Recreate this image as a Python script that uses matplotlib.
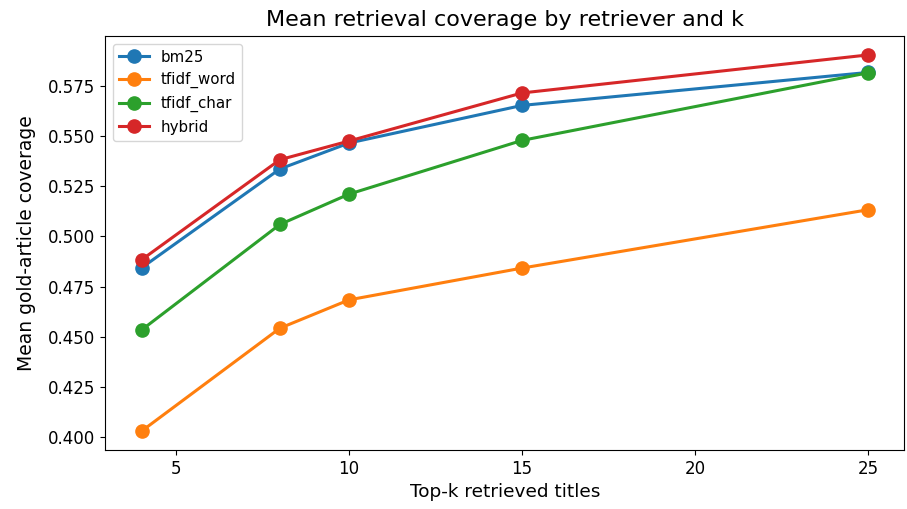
import matplotlib
matplotlib.use('Agg')
import matplotlib.pyplot as plt

k_values = [4, 8, 10, 15, 25]
bm25 = [0.4843, 0.5335, 0.5464, 0.5651, 0.5815]
tfidf_word = [0.4031, 0.4543, 0.4684, 0.4842, 0.5132]
tfidf_char = [0.4534, 0.5059, 0.5210, 0.5477, 0.5813]
hybrid = [0.4883, 0.5381, 0.5474, 0.5713, 0.5902]

series = [
    ('bm25', bm25),
    ('tfidf_word', tfidf_word),
    ('tfidf_char', tfidf_char),
    ('hybrid', hybrid),
]

fig, ax = plt.subplots(figsize=(9.07, 5.09), dpi=100)
for name, vals in series:
    ax.plot(k_values, vals, marker='o', markersize=9.5, linewidth=2.2, label=name)

ax.set_title('Mean retrieval coverage by retriever and k', fontsize=16, pad=7)
ax.set_xlabel('Top-k retrieved titles', fontsize=13.3)
ax.set_ylabel('Mean gold-article coverage', fontsize=13.5, labelpad=9)
ax.tick_params(labelsize=12)
ax.legend(fontsize=10.8, loc='upper left')

fig.subplots_adjust(left=0.116, right=0.997, top=0.929, bottom=0.116)
fig.savefig('out.png')
